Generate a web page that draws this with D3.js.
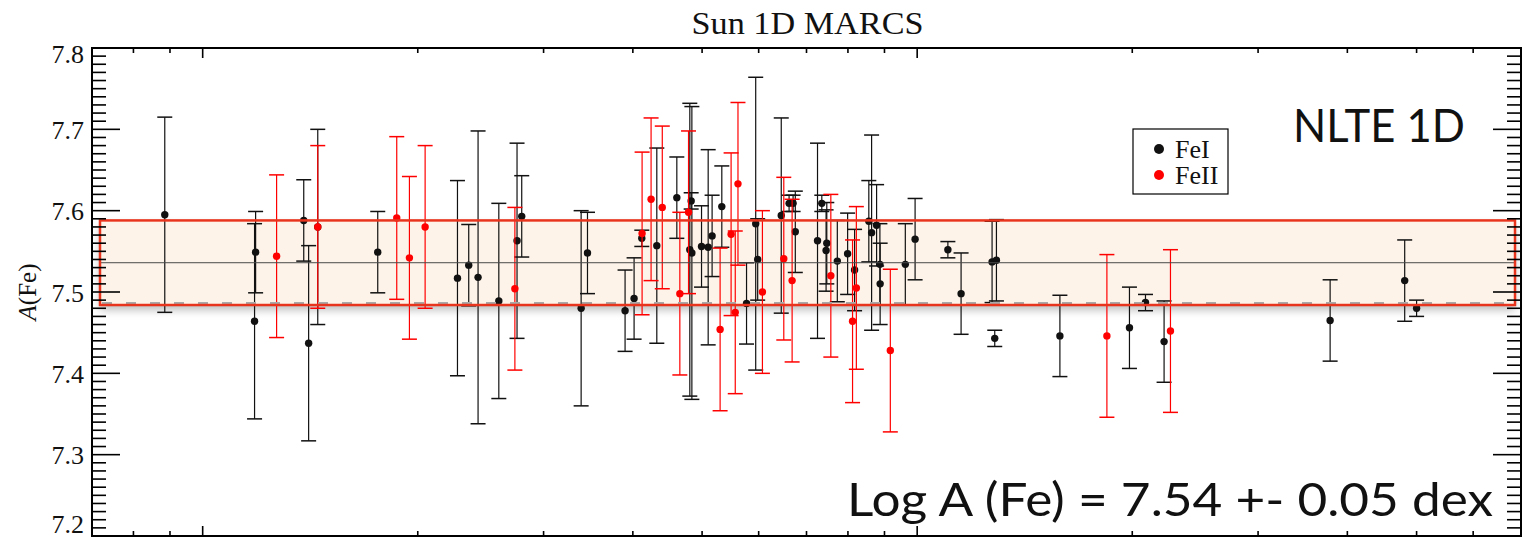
<!DOCTYPE html>
<html>
<head>
<meta charset="utf-8">
<script src="https://cdn.jsdelivr.net/npm/d3@7"></script>
<style>
  html, body { margin: 0; padding: 0; background: #fff; }
  svg { display: block; }
</style>
</head>
<body>
<svg id="chart" width="1527" height="540"></svg>
<script>
// ---- Fe I lines: x position (log axis), abundance A(Fe), 1-sigma error ----
const feI_x = [8.85, 11.86, 11.82, 13.85, 14.07, 14.49, 17.58, 22.73, 23.57, 24.29,
  25.97, 27.54, 27.96, 33.86, 34.56, 39.01, 40.16, 41.17, 43.21, 46.09,
  48.06, 48.38, 48.27, 49.91, 50.99, 51.64, 53.28, 57.70, 59.43, 59.81,
  64.53, 66.18, 67.04, 67.52, 72.53, 73.54, 74.73, 74.56, 77.31, 79.92,
  81.73, 85.57, 86.34, 87.74, 88.68, 88.75, 96.25, 99.33, 110.4, 115.2,
  127.3, 129.1, 128.4, 158.4, 198.2, 208.7, 221.6, 378.4, 481.2, 500.0];
const feI_A = [7.595, 7.549, 7.464, 7.588, 7.437, 7.580, 7.549, 7.517, 7.533, 7.518,
  7.489, 7.563, 7.593, 7.480, 7.548, 7.477, 7.492, 7.566, 7.557, 7.616,
  7.552, 7.548, 7.612, 7.556, 7.555, 7.569, 7.605, 7.486, 7.584, 7.540,
  7.594, 7.609, 7.609, 7.574, 7.563, 7.609, 7.560, 7.551, 7.538, 7.547,
  7.527, 7.587, 7.573, 7.582, 7.534, 7.510, 7.534, 7.565, 7.552, 7.498,
  7.537, 7.539, 7.443, 7.446, 7.456, 7.487, 7.439, 7.465, 7.514, 7.480];
const feI_err = [0.12, 0.05, 0.12, 0.05, 0.12, 0.12, 0.05, 0.12, 0.05, 0.18,
  0.12, 0.12, 0.05, 0.12, 0.05, 0.05, 0.05, 0.01, 0.12, 0.05,
  0.18, 0.18, 0.01, 0.05, 0.12, 0.05, 0.05, 0.05, 0.18, 0.05,
  0.12, 0.01, 0.01, 0.05, 0.12, 0.01, 0.05, 0.05, 0.05, 0.05,
  0.05, 0.05, 0.12, 0.05, 0.05, 0.05, 0.05, 0.05, 0.01, 0.05,
  0.05, 0.05, 0.01, 0.05, 0.05, 0.01, 0.05, 0.05, 0.05, 0.01];

// ---- Fe II lines ----
const feII_x = [12.69, 14.49, 18.69, 19.47, 20.48, 27.35, 41.21, 42.42, 43.98, 46.54,
  47.86, 52.99, 54.90, 55.64, 56.13, 60.73, 65.06, 66.83, 75.71, 81.20,
  82.20, 91.71, 184.3, 226.2];
const feII_A = [7.544, 7.580, 7.591, 7.542, 7.580, 7.504, 7.572, 7.614, 7.604, 7.498,
  7.598, 7.454, 7.571, 7.475, 7.633, 7.500, 7.541, 7.514, 7.520, 7.464,
  7.505, 7.428, 7.446, 7.452];
const feII_err = [0.10, 0.10, 0.10, 0.10, 0.10, 0.10, 0.10, 0.10, 0.10, 0.10,
  0.10, 0.10, 0.10, 0.10, 0.10, 0.10, 0.10, 0.10, 0.10, 0.10,
  0.10, 0.10, 0.10, 0.10];

// ---- adopted abundance and its spread ----
const meanA = 7.536;
const sigmaA = 0.052;

// ---- axes ----
const xDomain = [7, 700];
const yDomain = [7.2, 7.8];
const yTicks = [7.2, 7.3, 7.4, 7.5, 7.6, 7.7, 7.8];
const yTickLabels = ["7.2", "7.3", "7.4", "7.5", "7.6", "7.7", "7.8"];

const titleText = "Sun 1D MARCS";
const modelText = "NLTE 1D";
const seriesNames = ["FeI", "FeII"];
const seriesColors = ["#111111", "#ff0000"];

// ---------------------------------------------------------------
const m = { left: 92, right: 1521, top: 48, bottom: 536 };
const svg = d3.select("#chart");
const serif = "'Liberation Serif', 'Times New Roman', serif";
const sans = "Lato, 'DejaVu Sans', sans-serif";

const x = d3.scaleLog().domain(xDomain).range([m.left, m.right]);
const y = d3.scaleLinear().domain(yDomain).range([m.bottom, m.top]);

// soft shadow under the abundance band
const defs = svg.append("defs");
const filt = defs.append("filter").attr("id", "bandShadow")
  .attr("x", "-5%").attr("y", "-40%").attr("width", "110%").attr("height", "190%");
filt.append("feDropShadow").attr("dx", 0).attr("dy", 5).attr("stdDeviation", 4)
  .attr("flood-color", "#000").attr("flood-opacity", 0.26);

const bx0 = m.left + 8, bx1 = m.right - 6;
const bandTop = y(meanA + sigmaA), bandBot = y(meanA - sigmaA);

svg.append("rect")
  .attr("x", bx0).attr("y", bandTop)
  .attr("width", bx1 - bx0).attr("height", bandBot - bandTop)
  .attr("fill", "#fdf3e9")
  .attr("filter", "url(#bandShadow)");

// ---- error bars and points ----
function drawSeries(xs, As, errs, color) {
  const data = xs.map((v, i) => ({ x: v, a: As[i], e: errs[i] }));
  const g = svg.append("g");
  const capW = 7.5;
  g.selectAll("line.bar").data(data).join("line").attr("class", "bar")
    .attr("x1", d => x(d.x)).attr("x2", d => x(d.x))
    .attr("y1", d => y(d.a + d.e)).attr("y2", d => y(d.a - d.e))
    .attr("stroke", color).attr("stroke-width", 1.2);
  g.selectAll("line.capT").data(data).join("line").attr("class", "capT")
    .attr("x1", d => x(d.x) - capW).attr("x2", d => x(d.x) + capW)
    .attr("y1", d => y(d.a + d.e)).attr("y2", d => y(d.a + d.e))
    .attr("stroke", color).attr("stroke-width", 1.5);
  g.selectAll("line.capB").data(data).join("line").attr("class", "capB")
    .attr("x1", d => x(d.x) - capW).attr("x2", d => x(d.x) + capW)
    .attr("y1", d => y(d.a - d.e)).attr("y2", d => y(d.a - d.e))
    .attr("stroke", color).attr("stroke-width", 1.5);
  g.selectAll("circle").data(data).join("circle")
    .attr("cx", d => x(d.x)).attr("cy", d => y(d.a)).attr("r", 3.7)
    .attr("fill", color);
}
drawSeries(feI_x, feI_A, feI_err, seriesColors[0]);
drawSeries(feII_x, feII_A, feII_err, seriesColors[1]);

// ---- band outline, mean and lower dashed edge ----
svg.append("line")
  .attr("x1", bx0).attr("x2", bx1).attr("y1", y(meanA)).attr("y2", y(meanA))
  .attr("stroke", "#4a4a4a").attr("stroke-width", 1);
svg.append("line")
  .attr("x1", bx0 + 2).attr("x2", bx1 - 2).attr("y1", bandBot - 2).attr("y2", bandBot - 2)
  .attr("stroke", "#a8a8a8").attr("stroke-width", 2).attr("stroke-dasharray", "10,14");
svg.append("rect")
  .attr("x", bx0).attr("y", bandTop)
  .attr("width", bx1 - bx0).attr("height", bandBot - bandTop)
  .attr("fill", "none").attr("stroke", "#e8341c").attr("stroke-width", 2.5);

// ---- frame and ticks ----
const axisG = svg.append("g").attr("stroke", "#000");
const yMinor = d3.range(0, 61).map(i => yDomain[0] + i * 0.01);
axisG.selectAll("line.yl").data(yMinor).join("line").attr("class", "yl")
  .attr("x1", m.left).attr("x2", (d, i) => m.left + (i % 10 === 0 ? 28 : 14))
  .attr("y1", d => y(d)).attr("y2", d => y(d)).attr("stroke-width", 1.6);
axisG.selectAll("line.yr").data(yMinor).join("line").attr("class", "yr")
  .attr("x1", m.right).attr("x2", (d, i) => m.right - (i % 10 === 0 ? 28 : 14))
  .attr("y1", d => y(d)).attr("y2", d => y(d)).attr("stroke-width", 1.6);

const xTickVals = x.ticks();
const isMajor = v => Math.abs(Math.log10(v) - Math.round(Math.log10(v))) < 1e-9;
axisG.selectAll("line.xb").data(xTickVals).join("line").attr("class", "xb")
  .attr("x1", d => x(d)).attr("x2", d => x(d))
  .attr("y1", m.bottom).attr("y2", d => m.bottom - (isMajor(d) ? 10 : 5))
  .attr("stroke-width", 1.6);
axisG.selectAll("line.xt").data(xTickVals).join("line").attr("class", "xt")
  .attr("x1", d => x(d)).attr("x2", d => x(d))
  .attr("y1", m.top).attr("y2", d => m.top + (isMajor(d) ? 10 : 5))
  .attr("stroke-width", 1.6);

svg.append("rect")
  .attr("x", m.left).attr("y", m.top)
  .attr("width", m.right - m.left).attr("height", m.bottom - m.top)
  .attr("fill", "none").attr("stroke", "#000").attr("stroke-width", 2);

// ---- y tick labels (end labels nudged inside the frame) ----
svg.append("g").selectAll("text").data(yTicks).join("text")
  .attr("x", m.left - 8)
  .attr("y", (d, i) => y(d) + (i === 0 ? -3 : i === yTicks.length - 1 ? 15 : 9.5))
  .attr("text-anchor", "end")
  .attr("font-family", serif).attr("font-size", 26).attr("fill", "#111")
  .text((d, i) => yTickLabels[i]);

// ---- y axis title ----
const yl = svg.append("text")
  .attr("transform", `translate(36,${(m.top + m.bottom) / 2}) rotate(-90)`)
  .attr("text-anchor", "middle")
  .attr("font-family", serif).attr("font-size", 25).attr("fill", "#111");
yl.append("tspan").attr("font-style", "italic").text("A");
yl.append("tspan").text("(Fe)");

// ---- title ----
svg.append("text")
  .attr("x", (m.left + m.right) / 2 + 1).attr("y", 34)
  .attr("text-anchor", "middle")
  .attr("font-family", serif).attr("font-size", 31).attr("fill", "#111")
  .attr("textLength", 232).attr("lengthAdjust", "spacingAndGlyphs")
  .text(titleText);

// ---- model annotation and result ----
svg.append("text")
  .attr("x", 1465).attr("y", 142)
  .attr("text-anchor", "end")
  .attr("font-family", sans).attr("font-size", 47).attr("fill", "#111")
  .attr("textLength", 172).attr("lengthAdjust", "spacingAndGlyphs")
  .text(modelText);

svg.append("text")
  .attr("x", 1493).attr("y", 516)
  .attr("text-anchor", "end")
  .attr("font-family", sans).attr("font-size", 47).attr("fill", "#111")
  .attr("textLength", 646).attr("lengthAdjust", "spacingAndGlyphs")
  .text(`Log A (Fe) = ${meanA.toFixed(2)} +- ${sigmaA.toFixed(2)} dex`);

// ---- legend ----
const lg = svg.append("g").attr("transform", "translate(1133,129)");
lg.append("rect").attr("width", 95).attr("height", 65)
  .attr("fill", "#fff").attr("stroke", "#000").attr("stroke-width", 1.2);
seriesNames.forEach((name, i) => {
  lg.append("circle").attr("cx", 26).attr("cy", 20 + i * 26).attr("r", 5)
    .attr("fill", seriesColors[i]);
  lg.append("text").attr("x", 42).attr("y", 28.5 + i * 26)
    .attr("font-family", serif).attr("font-size", 26).attr("fill", "#111")
    .text(name);
});
</script>
</body>
</html>
